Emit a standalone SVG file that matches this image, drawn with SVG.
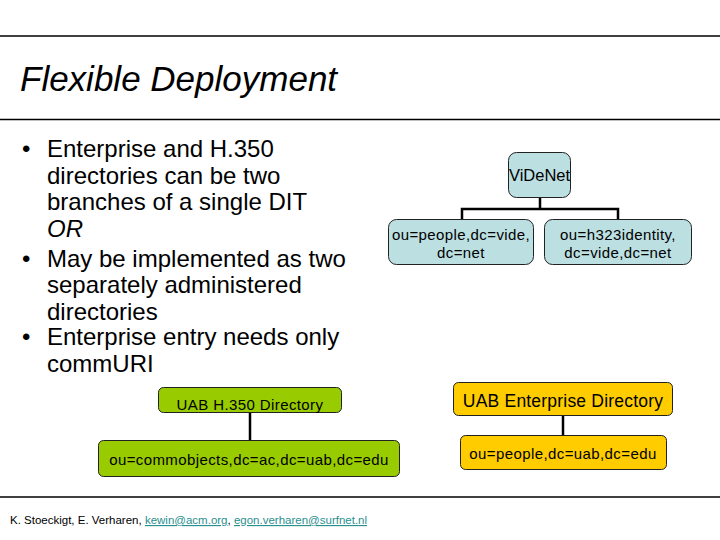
<svg xmlns="http://www.w3.org/2000/svg" width="720" height="540" viewBox="0 0 720 540">
<style>
text{font-family:"Liberation Sans",Arial,sans-serif;fill:#000}
.rule{stroke:#000;stroke-width:1.5}
.blue{fill:#bcdfe2;stroke:#222;stroke-width:1}
.green{fill:#99cc00;stroke:#222;stroke-width:1}
.orange{fill:#ffcc00;stroke:#222;stroke-width:1}
.conn{stroke:#000;stroke-width:2.5;fill:none}
.bul{font-size:24px}
.nt{font-size:15px;letter-spacing:0.4px;text-anchor:middle}
.link{fill:#2a8f8f;text-decoration:underline}
</style>
<rect width="720" height="540" fill="#fff"/>
<line class="rule" x1="0" y1="36" x2="720" y2="36"/>
<line class="rule" x1="0" y1="119.5" x2="720" y2="119.5"/>
<line class="rule" x1="0" y1="497" x2="720" y2="497"/>
<text x="20" y="91" font-size="35" font-style="italic">Flexible Deployment</text>
<g id="bullets" class="bul">
<text x="22" y="157">•</text>
<text x="47" y="157">Enterprise and H.350</text>
<text x="47" y="183.5">directories can be two</text>
<text x="47" y="210">branches of a single DIT</text>
<text x="47" y="236.5" font-style="italic">OR</text>
<text x="22" y="267">•</text>
<text x="47" y="267">May be implemented as two</text>
<text x="47" y="293">separately administered</text>
<text x="47" y="319.5">directories</text>
<text x="22" y="345">•</text>
<text x="47" y="345">Enterprise entry needs only</text>
<text x="47" y="371.5">commURI</text>
</g>
<g id="connectors">
<path class="conn" d="M540 198V209M462 219V209H618V219"/>
<path class="conn" d="M250 412V440"/>
<path class="conn" d="M563 416V435"/>
</g>
<g id="videnet">
<rect class="blue" x="508.5" y="152.5" width="62" height="45" rx="8"/>
<text class="nt" x="539.5" y="180.5" style="font-size:16.5px;letter-spacing:0">ViDeNet</text>
</g>
<g id="people-vide">
<rect class="blue" x="388.5" y="219.5" width="145" height="45" rx="8"/>
<text class="nt" x="461" y="240">ou=people,dc=vide,</text>
<text class="nt" x="461" y="257.5">dc=net</text>
</g>
<g id="h323identity">
<rect class="blue" x="544.5" y="219.5" width="147" height="45" rx="8"/>
<text class="nt" x="618" y="240">ou=h323identity,</text>
<text class="nt" x="618" y="257.5">dc=vide,dc=net</text>
</g>
<g id="h350-dir">
<rect class="green" x="158.5" y="387.5" width="183" height="25" rx="5"/>
<text class="nt" x="250" y="410">UAB H.350 Directory</text>
</g>
<g id="commobjects">
<rect class="green" x="98.5" y="440.5" width="301" height="36" rx="5"/>
<text class="nt" x="249" y="465">ou=commobjects,dc=ac,dc=uab,dc=edu</text>
</g>
<g id="enterprise-dir">
<rect class="orange" x="453.5" y="382.5" width="219" height="33" rx="5"/>
<text class="nt" x="563" y="406.5" style="font-size:17.5px;letter-spacing:0.2px">UAB Enterprise Directory</text>
</g>
<g id="people-uab">
<rect class="orange" x="460.5" y="435.5" width="206" height="34" rx="5"/>
<text class="nt" x="563" y="459">ou=people,dc=uab,dc=edu</text>
</g>
<text x="10" y="524" font-size="11.5">K. Stoeckigt, E. Verharen, <tspan class="link">kewin@acm.org</tspan>, <tspan class="link">egon.verharen@surfnet.nl</tspan></text>
</svg>
